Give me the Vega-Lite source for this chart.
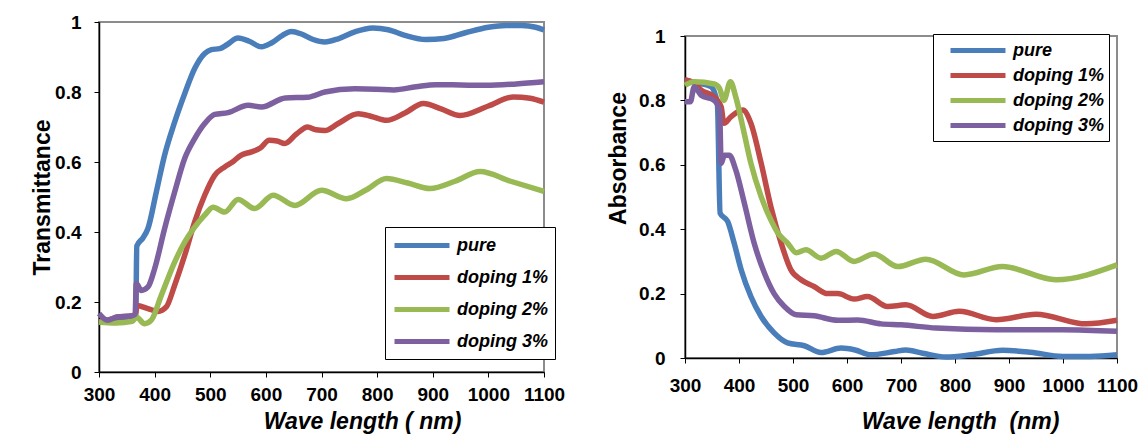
{
  "$schema": "https://vega.github.io/schema/vega-lite/v6.json",
  "padding": {"left": 30, "top": 12, "right": 5, "bottom": 0},
  "background": "white",
  "datasets": {
    "T": [
      {"wl": 300, "v": 0.142, "s": "pure"}, {"wl": 320, "v": 0.142, "s": "pure"}, {"wl": 340, "v": 0.15, "s": "pure"}, {"wl": 360, "v": 0.157, "s": "pure"}, {"wl": 366, "v": 0.16, "s": "pure"}, {"wl": 368, "v": 0.36, "s": "pure"}, {"wl": 379, "v": 0.383, "s": "pure"}, {"wl": 388, "v": 0.41, "s": "pure"}, {"wl": 403, "v": 0.514, "s": "pure"}, {"wl": 418, "v": 0.62, "s": "pure"}, {"wl": 436, "v": 0.714, "s": "pure"}, {"wl": 454, "v": 0.795, "s": "pure"}, {"wl": 472, "v": 0.867, "s": "pure"}, {"wl": 490, "v": 0.91, "s": "pure"}, {"wl": 502, "v": 0.921, "s": "pure"}, {"wl": 517, "v": 0.924, "s": "pure"}, {"wl": 530, "v": 0.935, "s": "pure"}, {"wl": 550, "v": 0.954, "s": "pure"}, {"wl": 570, "v": 0.945, "s": "pure"}, {"wl": 592, "v": 0.929, "s": "pure"}, {"wl": 610, "v": 0.94, "s": "pure"}, {"wl": 630, "v": 0.962, "s": "pure"}, {"wl": 646, "v": 0.973, "s": "pure"}, {"wl": 665, "v": 0.965, "s": "pure"}, {"wl": 685, "v": 0.95, "s": "pure"}, {"wl": 706, "v": 0.943, "s": "pure"}, {"wl": 730, "v": 0.952, "s": "pure"}, {"wl": 760, "v": 0.972, "s": "pure"}, {"wl": 792, "v": 0.983, "s": "pure"}, {"wl": 820, "v": 0.978, "s": "pure"}, {"wl": 850, "v": 0.962, "s": "pure"}, {"wl": 888, "v": 0.95, "s": "pure"}, {"wl": 920, "v": 0.953, "s": "pure"}, {"wl": 960, "v": 0.97, "s": "pure"}, {"wl": 1000, "v": 0.985, "s": "pure"}, {"wl": 1032, "v": 0.99, "s": "pure"}, {"wl": 1060, "v": 0.99, "s": "pure"}, {"wl": 1085, "v": 0.985, "s": "pure"}, {"wl": 1100, "v": 0.977, "s": "pure"},
      {"wl": 300, "v": 0.143, "s": "doping 1%"}, {"wl": 320, "v": 0.15, "s": "doping 1%"}, {"wl": 333, "v": 0.157, "s": "doping 1%"}, {"wl": 358, "v": 0.16, "s": "doping 1%"}, {"wl": 366, "v": 0.165, "s": "doping 1%"}, {"wl": 368, "v": 0.19, "s": "doping 1%"}, {"wl": 388, "v": 0.181, "s": "doping 1%"}, {"wl": 406, "v": 0.173, "s": "doping 1%"}, {"wl": 421, "v": 0.186, "s": "doping 1%"}, {"wl": 436, "v": 0.248, "s": "doping 1%"}, {"wl": 454, "v": 0.333, "s": "doping 1%"}, {"wl": 472, "v": 0.429, "s": "doping 1%"}, {"wl": 490, "v": 0.505, "s": "doping 1%"}, {"wl": 508, "v": 0.562, "s": "doping 1%"}, {"wl": 526, "v": 0.586, "s": "doping 1%"}, {"wl": 540, "v": 0.6, "s": "doping 1%"}, {"wl": 555, "v": 0.619, "s": "doping 1%"}, {"wl": 574, "v": 0.629, "s": "doping 1%"}, {"wl": 590, "v": 0.64, "s": "doping 1%"}, {"wl": 606, "v": 0.662, "s": "doping 1%"}, {"wl": 620, "v": 0.66, "s": "doping 1%"}, {"wl": 634, "v": 0.653, "s": "doping 1%"}, {"wl": 655, "v": 0.68, "s": "doping 1%"}, {"wl": 675, "v": 0.7, "s": "doping 1%"}, {"wl": 690, "v": 0.692, "s": "doping 1%"}, {"wl": 706, "v": 0.69, "s": "doping 1%"}, {"wl": 730, "v": 0.71, "s": "doping 1%"}, {"wl": 766, "v": 0.738, "s": "doping 1%"}, {"wl": 790, "v": 0.73, "s": "doping 1%"}, {"wl": 817, "v": 0.719, "s": "doping 1%"}, {"wl": 850, "v": 0.74, "s": "doping 1%"}, {"wl": 883, "v": 0.767, "s": "doping 1%"}, {"wl": 915, "v": 0.752, "s": "doping 1%"}, {"wl": 949, "v": 0.733, "s": "doping 1%"}, {"wl": 1000, "v": 0.76, "s": "doping 1%"}, {"wl": 1045, "v": 0.786, "s": "doping 1%"}, {"wl": 1075, "v": 0.782, "s": "doping 1%"}, {"wl": 1100, "v": 0.771, "s": "doping 1%"},
      {"wl": 300, "v": 0.143, "s": "doping 2%"}, {"wl": 330, "v": 0.14, "s": "doping 2%"}, {"wl": 360, "v": 0.145, "s": "doping 2%"}, {"wl": 367, "v": 0.157, "s": "doping 2%"}, {"wl": 382, "v": 0.138, "s": "doping 2%"}, {"wl": 394, "v": 0.148, "s": "doping 2%"}, {"wl": 412, "v": 0.219, "s": "doping 2%"}, {"wl": 436, "v": 0.314, "s": "doping 2%"}, {"wl": 454, "v": 0.371, "s": "doping 2%"}, {"wl": 472, "v": 0.414, "s": "doping 2%"}, {"wl": 490, "v": 0.448, "s": "doping 2%"}, {"wl": 505, "v": 0.471, "s": "doping 2%"}, {"wl": 526, "v": 0.457, "s": "doping 2%"}, {"wl": 550, "v": 0.493, "s": "doping 2%"}, {"wl": 580, "v": 0.467, "s": "doping 2%"}, {"wl": 613, "v": 0.505, "s": "doping 2%"}, {"wl": 652, "v": 0.476, "s": "doping 2%"}, {"wl": 700, "v": 0.519, "s": "doping 2%"}, {"wl": 745, "v": 0.495, "s": "doping 2%"}, {"wl": 780, "v": 0.52, "s": "doping 2%"}, {"wl": 817, "v": 0.553, "s": "doping 2%"}, {"wl": 855, "v": 0.54, "s": "doping 2%"}, {"wl": 895, "v": 0.524, "s": "doping 2%"}, {"wl": 940, "v": 0.545, "s": "doping 2%"}, {"wl": 985, "v": 0.573, "s": "doping 2%"}, {"wl": 1040, "v": 0.545, "s": "doping 2%"}, {"wl": 1100, "v": 0.516, "s": "doping 2%"},
      {"wl": 300, "v": 0.167, "s": "doping 3%"}, {"wl": 315, "v": 0.148, "s": "doping 3%"}, {"wl": 333, "v": 0.157, "s": "doping 3%"}, {"wl": 358, "v": 0.16, "s": "doping 3%"}, {"wl": 365, "v": 0.165, "s": "doping 3%"}, {"wl": 367, "v": 0.253, "s": "doping 3%"}, {"wl": 376, "v": 0.233, "s": "doping 3%"}, {"wl": 388, "v": 0.243, "s": "doping 3%"}, {"wl": 400, "v": 0.295, "s": "doping 3%"}, {"wl": 418, "v": 0.41, "s": "doping 3%"}, {"wl": 436, "v": 0.514, "s": "doping 3%"}, {"wl": 454, "v": 0.61, "s": "doping 3%"}, {"wl": 472, "v": 0.667, "s": "doping 3%"}, {"wl": 490, "v": 0.71, "s": "doping 3%"}, {"wl": 508, "v": 0.736, "s": "doping 3%"}, {"wl": 532, "v": 0.741, "s": "doping 3%"}, {"wl": 568, "v": 0.762, "s": "doping 3%"}, {"wl": 592, "v": 0.757, "s": "doping 3%"}, {"wl": 635, "v": 0.783, "s": "doping 3%"}, {"wl": 675, "v": 0.785, "s": "doping 3%"}, {"wl": 706, "v": 0.8, "s": "doping 3%"}, {"wl": 760, "v": 0.809, "s": "doping 3%"}, {"wl": 798, "v": 0.808, "s": "doping 3%"}, {"wl": 830, "v": 0.806, "s": "doping 3%"}, {"wl": 870, "v": 0.815, "s": "doping 3%"}, {"wl": 906, "v": 0.821, "s": "doping 3%"}, {"wl": 950, "v": 0.82, "s": "doping 3%"}, {"wl": 996, "v": 0.819, "s": "doping 3%"}, {"wl": 1050, "v": 0.823, "s": "doping 3%"}, {"wl": 1100, "v": 0.829, "s": "doping 3%"}
    ],
    "A": [
      {"wl": 300, "v": 0.863, "s": "pure"}, {"wl": 320, "v": 0.855, "s": "pure"}, {"wl": 348, "v": 0.843, "s": "pure"}, {"wl": 360, "v": 0.79, "s": "pure"}, {"wl": 365, "v": 0.45, "s": "pure"}, {"wl": 379, "v": 0.424, "s": "pure"}, {"wl": 391, "v": 0.357, "s": "pure"}, {"wl": 404, "v": 0.274, "s": "pure"}, {"wl": 422, "v": 0.191, "s": "pure"}, {"wl": 441, "v": 0.129, "s": "pure"}, {"wl": 465, "v": 0.078, "s": "pure"}, {"wl": 490, "v": 0.047, "s": "pure"}, {"wl": 521, "v": 0.038, "s": "pure"}, {"wl": 552, "v": 0.017, "s": "pure"}, {"wl": 589, "v": 0.031, "s": "pure"}, {"wl": 615, "v": 0.025, "s": "pure"}, {"wl": 644, "v": 0.01, "s": "pure"}, {"wl": 688, "v": 0.02, "s": "pure"}, {"wl": 709, "v": 0.025, "s": "pure"}, {"wl": 740, "v": 0.015, "s": "pure"}, {"wl": 783, "v": 0.003, "s": "pure"}, {"wl": 830, "v": 0.01, "s": "pure"}, {"wl": 888, "v": 0.024, "s": "pure"}, {"wl": 940, "v": 0.018, "s": "pure"}, {"wl": 999, "v": 0.005, "s": "pure"}, {"wl": 1050, "v": 0.005, "s": "pure"}, {"wl": 1100, "v": 0.01, "s": "pure"},
      {"wl": 300, "v": 0.864, "s": "doping 1%"}, {"wl": 317, "v": 0.853, "s": "doping 1%"}, {"wl": 330, "v": 0.832, "s": "doping 1%"}, {"wl": 354, "v": 0.811, "s": "doping 1%"}, {"wl": 367, "v": 0.78, "s": "doping 1%"}, {"wl": 372, "v": 0.729, "s": "doping 1%"}, {"wl": 385, "v": 0.749, "s": "doping 1%"}, {"wl": 407, "v": 0.77, "s": "doping 1%"}, {"wl": 422, "v": 0.729, "s": "doping 1%"}, {"wl": 441, "v": 0.605, "s": "doping 1%"}, {"wl": 459, "v": 0.47, "s": "doping 1%"}, {"wl": 478, "v": 0.357, "s": "doping 1%"}, {"wl": 496, "v": 0.274, "s": "doping 1%"}, {"wl": 515, "v": 0.243, "s": "doping 1%"}, {"wl": 539, "v": 0.222, "s": "doping 1%"}, {"wl": 564, "v": 0.2, "s": "doping 1%"}, {"wl": 583, "v": 0.2, "s": "doping 1%"}, {"wl": 613, "v": 0.183, "s": "doping 1%"}, {"wl": 638, "v": 0.191, "s": "doping 1%"}, {"wl": 675, "v": 0.16, "s": "doping 1%"}, {"wl": 709, "v": 0.165, "s": "doping 1%"}, {"wl": 759, "v": 0.129, "s": "doping 1%"}, {"wl": 808, "v": 0.145, "s": "doping 1%"}, {"wl": 876, "v": 0.119, "s": "doping 1%"}, {"wl": 950, "v": 0.136, "s": "doping 1%"}, {"wl": 1043, "v": 0.106, "s": "doping 1%"}, {"wl": 1100, "v": 0.117, "s": "doping 1%"},
      {"wl": 300, "v": 0.847, "s": "doping 2%"}, {"wl": 317, "v": 0.858, "s": "doping 2%"}, {"wl": 354, "v": 0.851, "s": "doping 2%"}, {"wl": 364, "v": 0.837, "s": "doping 2%"}, {"wl": 372, "v": 0.8, "s": "doping 2%"}, {"wl": 384, "v": 0.858, "s": "doping 2%"}, {"wl": 394, "v": 0.811, "s": "doping 2%"}, {"wl": 407, "v": 0.718, "s": "doping 2%"}, {"wl": 422, "v": 0.605, "s": "doping 2%"}, {"wl": 441, "v": 0.501, "s": "doping 2%"}, {"wl": 459, "v": 0.429, "s": "doping 2%"}, {"wl": 472, "v": 0.388, "s": "doping 2%"}, {"wl": 490, "v": 0.357, "s": "doping 2%"}, {"wl": 506, "v": 0.327, "s": "doping 2%"}, {"wl": 524, "v": 0.336, "s": "doping 2%"}, {"wl": 552, "v": 0.31, "s": "doping 2%"}, {"wl": 580, "v": 0.331, "s": "doping 2%"}, {"wl": 613, "v": 0.3, "s": "doping 2%"}, {"wl": 650, "v": 0.323, "s": "doping 2%"}, {"wl": 694, "v": 0.284, "s": "doping 2%"}, {"wl": 746, "v": 0.307, "s": "doping 2%"}, {"wl": 817, "v": 0.258, "s": "doping 2%"}, {"wl": 888, "v": 0.284, "s": "doping 2%"}, {"wl": 987, "v": 0.243, "s": "doping 2%"}, {"wl": 1100, "v": 0.289, "s": "doping 2%"},
      {"wl": 300, "v": 0.796, "s": "doping 3%"}, {"wl": 310, "v": 0.796, "s": "doping 3%"}, {"wl": 317, "v": 0.842, "s": "doping 3%"}, {"wl": 330, "v": 0.816, "s": "doping 3%"}, {"wl": 354, "v": 0.8, "s": "doping 3%"}, {"wl": 364, "v": 0.77, "s": "doping 3%"}, {"wl": 367, "v": 0.605, "s": "doping 3%"}, {"wl": 373, "v": 0.63, "s": "doping 3%"}, {"wl": 382, "v": 0.63, "s": "doping 3%"}, {"wl": 394, "v": 0.584, "s": "doping 3%"}, {"wl": 410, "v": 0.48, "s": "doping 3%"}, {"wl": 428, "v": 0.357, "s": "doping 3%"}, {"wl": 447, "v": 0.264, "s": "doping 3%"}, {"wl": 465, "v": 0.2, "s": "doping 3%"}, {"wl": 484, "v": 0.16, "s": "doping 3%"}, {"wl": 506, "v": 0.134, "s": "doping 3%"}, {"wl": 539, "v": 0.131, "s": "doping 3%"}, {"wl": 583, "v": 0.117, "s": "doping 3%"}, {"wl": 620, "v": 0.118, "s": "doping 3%"}, {"wl": 663, "v": 0.106, "s": "doping 3%"}, {"wl": 700, "v": 0.103, "s": "doping 3%"}, {"wl": 765, "v": 0.093, "s": "doping 3%"}, {"wl": 876, "v": 0.088, "s": "doping 3%"}, {"wl": 999, "v": 0.088, "s": "doping 3%"}, {"wl": 1100, "v": 0.083, "s": "doping 3%"}
    ]
  },
  "spacing": 39,
  "resolve": {"scale": {"color": "independent"}, "legend": {"color": "independent"}},
  "hconcat": [
    {
      "width": 445,
      "height": 350,
      "data": {"name": "T"},
      "mark": {"type": "line", "strokeWidth": 5.5, "interpolate": "monotone"},
      "encoding": {
        "x": {"field": "wl", "type": "quantitative", "scale": {"domain": [300, 1100], "nice": false},
          "axis": {"values": [300, 400, 500, 600, 700, 800, 900, 1000, 1100], "format": "d", "labelPadding": 8, "title": "Wave length ( nm)", "titleFontStyle": "italic", "titleX": 263, "titleY": 56, "titleBaseline": "alphabetic"}},
        "y": {"field": "v", "type": "quantitative", "scale": {"domain": [0, 1], "nice": false},
          "axis": {"values": [0, 0.2, 0.4, 0.6, 0.8, 1], "format": "~g", "labelPadding": 13, "title": "Transmittance", "titleX": -50, "titleY": 175, "titleBaseline": "alphabetic"}},
        "color": {"field": "s", "type": "nominal",
          "scale": {"domain": ["pure", "doping 1%", "doping 2%", "doping 3%"], "range": ["#4a7ebb", "#be4b48", "#98b954", "#7d60a0"]},
          "legend": {"orient": "none", "legendX": 286, "legendY": 205, "title": null, "symbolType": "M-1,0H5.11", "symbolSize": 324, "symbolStrokeWidth": 5, "labelFontSize": 18, "labelFontStyle": "italic", "labelFontWeight": "bold", "labelColor": "#000", "labelOffset": 42, "strokeColor": "#000", "fillColor": "white", "padding": 7, "rowPadding": 10}}
      }
    },
    {
      "spacing": 0,
      "vconcat": [
        {
          "width": 432,
          "height": 2,
          "data": {"values": [{"a": 1}]},
          "mark": {"type": "point", "opacity": 0},
          "view": {"stroke": null},
          "encoding": {}
        },
        {
          "width": 432,
          "height": 322,
          "data": {"name": "A"},
          "mark": {"type": "line", "strokeWidth": 5.5, "interpolate": "monotone"},
          "encoding": {
            "x": {"field": "wl", "type": "quantitative", "scale": {"domain": [300, 1100], "nice": false},
              "axis": {"values": [300, 400, 500, 600, 700, 800, 900, 1000, 1100], "format": "d", "labelPadding": 13, "title": "Wave length \u00a0(nm)", "titleFontStyle": "italic", "titleX": 275, "titleY": 70, "titleBaseline": "alphabetic"}},
            "y": {"field": "v", "type": "quantitative", "scale": {"domain": [0, 1], "nice": false},
              "axis": {"values": [0, 0.2, 0.4, 0.6, 0.8, 1], "format": "~g", "labelPadding": 15, "title": "Absorbance", "titleX": -60, "titleY": 122, "titleBaseline": "alphabetic"}},
            "color": {"field": "s", "type": "nominal",
              "scale": {"domain": ["pure", "doping 1%", "doping 2%", "doping 3%"], "range": ["#4a7ebb", "#be4b48", "#98b954", "#7d60a0"]},
              "legend": {"orient": "none", "legendX": 248, "legendY": 12, "title": null, "symbolType": "M-1,0H5.11", "symbolSize": 324, "symbolStrokeWidth": 5, "symbolOffset": 10, "labelFontSize": 18, "labelFontStyle": "italic", "labelFontWeight": "bold", "labelColor": "#000", "labelOffset": 42, "strokeColor": "#000", "fillColor": "white", "padding": 5, "rowPadding": 3}}
          }
        }
      ]
    }
  ],
  "config": {
    "font": "Liberation Sans",
    "view": {"stroke": "#8c8c8c", "strokeWidth": 2},
    "axis": {"grid": false, "labelOverlap": false, "labelFlush": false, "domainColor": "#000", "domainWidth": 1.5, "tickColor": "#000", "tickSize": 5, "labelFont": "Liberation Sans", "labelFontSize": 19, "labelFontWeight": "bold", "labelColor": "#000", "titleFont": "Liberation Sans", "titleFontSize": 23, "titleFontWeight": "bold", "titleColor": "#000"},
    "legend": {"labelFont": "Liberation Sans"}
  }
}
